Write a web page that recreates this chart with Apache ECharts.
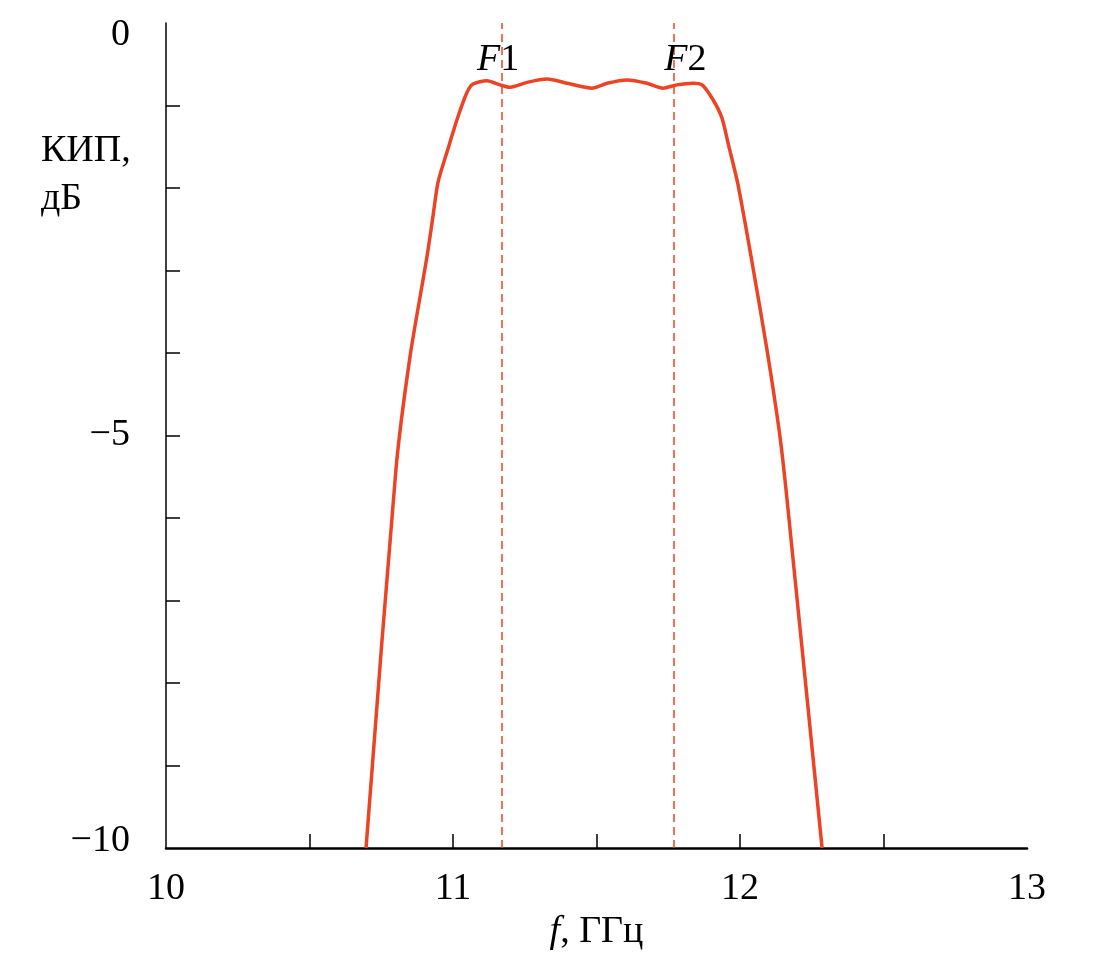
<!DOCTYPE html>
<html>
<head>
<meta charset="utf-8">
<script src="https://cdn.jsdelivr.net/npm/echarts@6/dist/echarts.min.js"></script>
<style>
html,body{margin:0;padding:0;background:#fff;}
#c{width:1105px;height:959px;}
</style>
</head>
<body>
<div id="c"></div>
<script>
// Frequency, GHz
var freq = [10.697, 10.801, 10.850, 10.909, 10.930, 10.948, 10.983, 11.017, 11.049, 11.070, 11.118, 11.164, 11.199, 11.258, 11.328, 11.397, 11.484, 11.537, 11.606, 11.676, 11.732, 11.780, 11.836, 11.868, 11.906, 11.937, 11.958, 11.993, 12.045, 12.094, 12.138, 12.164, 12.286];
// КИП, dB
var kip = [-10, -5.42, -4.05, -2.84, -2.35, -1.93, -1.52, -1.14, -0.84, -0.74, -0.70, -0.75, -0.78, -0.72, -0.68, -0.73, -0.79, -0.73, -0.69, -0.73, -0.79, -0.75, -0.73, -0.75, -0.93, -1.15, -1.45, -1.96, -2.96, -3.96, -4.98, -5.78, -10];
// Band edges F1, F2 (GHz)
var bandEdges = [11.167, 11.774];
var bandNames = ['1', '2'];
var bandLabelPos = [[11.157, -0.45], [11.81, -0.45]];
var xTickValues = [10.5, 11, 11.5, 12, 12.5];
var xTickLabels = [10, 11, 12, 13];
var yTickValues = [-9, -8, -7, -6, -5, -4, -3, -2, -1];
var yTickLabels = [0, -5, -10];

var RED = '#EC4325';
var FONT = '"Liberation Serif", "Times New Roman", serif';
var FS = 38;

var chart = echarts.init(document.getElementById('c'));
var lineData = freq.map(function (f, i) { return [f, kip[i]]; });

chart.setOption({
  animation: false,
  backgroundColor: '#fff',
  title: {
    text: 'КИП,\nдБ',
    left: 36, top: 122,
    textStyle: { fontFamily: FONT, fontSize: FS, fontWeight: 'normal', color: '#000', lineHeight: 48 }
  },
  grid: { left: 166, right: 78, top: 23, bottom: 111 },
  xAxis: {
    type: 'value', min: 10, max: 13, interval: 0.5,
    axisLine: { onZero: false, lineStyle: { color: '#000', width: 2.5 } },
    axisTick: { inside: true, length: 14, customValues: xTickValues, lineStyle: { color: '#000', width: 1.5 } },
    splitLine: { show: false },
    axisLabel: {
      margin: 22, color: '#000', fontFamily: FONT, fontSize: FS,
      customValues: xTickLabels,
      formatter: function (v) { return String(v); }
    },
    name: '{i|f}, ГГц',
    nameLocation: 'middle', nameGap: 56,
    nameTextStyle: {
      color: '#000', fontFamily: FONT, fontSize: FS,
      rich: { i: { fontStyle: 'italic', fontFamily: FONT, fontSize: FS, color: '#000' } }
    }
  },
  yAxis: {
    type: 'value', min: -10, max: 0, interval: 1,
    axisLine: { onZero: false, lineStyle: { color: '#000', width: 1.5 } },
    axisTick: { inside: true, length: 14, customValues: yTickValues, lineStyle: { color: '#000', width: 1.5 } },
    splitLine: { show: false },
    axisLabel: {
      margin: 36, color: '#000', fontFamily: FONT, fontSize: FS,
      customValues: yTickLabels,
      formatter: function (v) {
        var s = (v < 0 ? '\u2212' + Math.abs(v) : String(v));
        if (v === 0) return '{t|' + s + '}';
        if (v === -10) return '{b|' + s + '}';
        return '{m|' + s + '}';
      },
      rich: {
        t: { fontFamily: FONT, fontSize: FS, color: '#000', padding: [24, 0, 0, 0] },
        m: { fontFamily: FONT, fontSize: FS, color: '#000' },
        b: { fontFamily: FONT, fontSize: FS, color: '#000', padding: [0, 0, 14, 0] }
      }
    }
  },
  series: [{
    type: 'line',
    data: lineData,
    smooth: 0.25,
    showSymbol: false,
    lineStyle: { color: RED, width: 3.5 },
    markLine: {
      silent: true,
      symbol: ['none', 'none'],
      label: { show: false },
      lineStyle: { color: RED, width: 1.5, type: [8, 5] },
      data: bandEdges.map(function (x) { return { xAxis: x }; })
    },
    markPoint: {
      symbol: 'circle', symbolSize: 0,
      label: {
        show: true, position: 'inside', color: '#000', fontFamily: FONT, fontSize: FS,
        formatter: function (p) { return '{i|F}' + p.name; },
        rich: { i: { fontStyle: 'italic', fontFamily: FONT, fontSize: FS, color: '#000' } }
      },
      data: bandLabelPos.map(function (c, i) { return { name: bandNames[i], coord: c }; })
    }
  }]
});
</script>
</body>
</html>
